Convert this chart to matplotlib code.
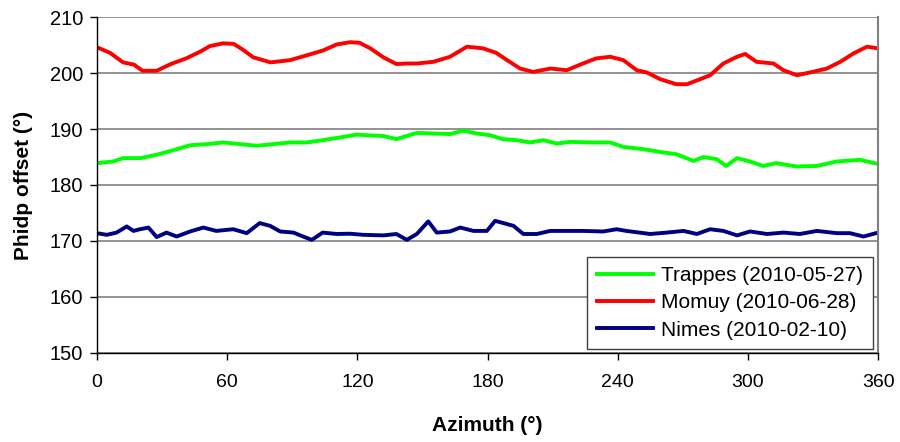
import matplotlib
matplotlib.use("Agg")
import matplotlib.pyplot as plt

plt.rcParams["font.family"] = ["Liberation Sans", "DejaVu Sans"]

# values
red_az = [0, 6, 12, 17, 21, 27.5, 34, 41, 47.5, 52, 58, 63, 67.5, 72, 80, 89, 97, 104, 110.5, 116.6,
          121, 126, 132, 138, 143, 147.5, 155, 162.7, 170.5, 178, 184, 189, 195, 201, 209, 216.5, 224, 230,
          236.5, 242.6, 248.8, 253.4, 259.6, 267, 272, 278, 282.6, 288.7, 295, 298.8, 304, 311.8, 316.4,
          322.6, 328.7, 336.4, 342.6, 348.7, 354.9, 360]
red_val = [204.6, 203.6, 201.9, 201.5, 200.4, 200.4, 201.6, 202.6, 203.8, 204.8, 205.3, 205.2, 204.1, 202.8,
           201.9, 202.3, 203.2, 204.0, 205.1, 205.5, 205.4, 204.4, 202.8, 201.6, 201.7, 201.7, 202.0, 202.9,
           204.7, 204.4, 203.6, 202.3, 200.8, 200.2, 200.8, 200.5, 201.7, 202.6, 202.9, 202.3, 200.5, 200.1,
           198.9, 198.0, 198.0, 198.9, 199.6, 201.7, 202.9, 203.4, 202.0, 201.7, 200.5, 199.6, 200.1, 200.8,
           202.0, 203.5, 204.7, 204.4]

green_az = [0, 7.5, 12, 20, 27.5, 35, 43, 50.6, 58, 66, 73.6, 81.3, 89, 96.7, 104, 112, 119.7, 124, 132, 138,
            147.4, 155, 162.7, 169, 175, 181, 187, 193.5, 199.6, 205.8, 212, 218, 227, 236.5, 242.6, 251.8,
            259.6, 267, 275, 279.5, 285.7, 290, 295, 301, 307, 313, 322.6, 331.8, 341, 351.7, 360]
green_val = [183.9, 184.2, 184.8, 184.8, 185.4, 186.2, 187.1, 187.3, 187.6, 187.3, 187.0, 187.3, 187.6, 187.6,
             188.0, 188.5, 189.0, 188.9, 188.75, 188.2, 189.3, 189.2, 189.1, 189.7, 189.2, 188.9, 188.2, 188.0,
             187.6, 188.0, 187.4, 187.7, 187.6, 187.6, 186.8, 186.4, 185.9, 185.5, 184.3, 185.0, 184.6, 183.4,
             184.8, 184.2, 183.4, 183.9, 183.3, 183.4, 184.2, 184.5, 183.75]

blue_az = [0, 4.5, 9, 13.7, 16.8, 19.8, 23.7, 27.5, 32, 36.7, 42.9, 49, 55, 62.8, 69, 75, 79.8, 84.4, 90.5, 95,
           99, 104, 110.5, 116.6, 122.8, 132, 138, 142.8, 147.4, 152.7, 156.6, 162.7, 167.4, 173.5, 179.7,
           183.5, 187.3, 192, 196.5, 202.7, 208.9, 216.5, 224, 233.3, 239.5, 244, 255, 262.6, 270.3, 276.5,
           282.6, 288.7, 295, 301, 308.8, 316.4, 324, 331.8, 341, 347, 353.3, 360]
blue_val = [171.4, 171.1, 171.5, 172.6, 171.8, 172.1, 172.4, 170.7, 171.5, 170.8, 171.7, 172.4, 171.8, 172.1,
            171.4, 173.2, 172.7, 171.7, 171.5, 170.8, 170.2, 171.5, 171.25, 171.3, 171.1, 171.0, 171.25, 170.2,
            171.25, 173.5, 171.5, 171.7, 172.4, 171.8, 171.8, 173.6, 173.2, 172.7, 171.25, 171.25, 171.8,
            171.8, 171.8, 171.7, 172.1, 171.8, 171.25, 171.5, 171.8, 171.25, 172.1, 171.8, 171.0, 171.7,
            171.25, 171.5, 171.25, 171.8, 171.4, 171.4, 170.8, 171.5]

labels = ["Trappes (2010-05-27)", "Momuy (2010-06-28)", "Nimes (2010-02-10)"]
x_ticks = [0, 60, 120, 180, 240, 300, 360]
y_ticks = [150, 160, 170, 180, 190, 200, 210]

fig = plt.figure(figsize=(9, 4.42), dpi=100)
ax = fig.add_axes([0.1078, 0.2014, 0.8678, 0.7601])

# horizontal grid in gray
ax.set_axisbelow(True)
ax.yaxis.grid(True, color="#808080", linewidth=1.2)

ax.plot(green_az, green_val, color="#00ff00", linewidth=2.8, label=labels[0])
ax.plot(red_az, red_val, color="#ff0000", linewidth=2.8, label=labels[1])
ax.plot(blue_az, blue_val, color="#000080", linewidth=2.8, label=labels[2])

ax.set_xlim(0, 360)
ax.set_ylim(150, 210)
ax.set_xticks(x_ticks)
ax.set_yticks(y_ticks)
ax.tick_params(direction="out", length=5, width=1)
ax.tick_params(axis="y", labelsize=14.5, pad=5)
ax.tick_params(axis="x", labelsize=14, pad=10)

for s in ["left", "bottom"]:
    ax.spines[s].set_color("black")
    ax.spines[s].set_linewidth(1)
ax.spines["top"].set_visible(False)
ax.spines["right"].set_color("#808080")
ax.spines["right"].set_linewidth(1.5)

ax.set_xlabel("Azimuth (°)", fontsize=15, fontweight="bold", labelpad=18)
ax.set_ylabel("Phidp offset (°)", fontsize=15, fontweight="bold", labelpad=12)

leg = ax.legend(loc="lower right", bbox_to_anchor=(0.993, 0.012), borderaxespad=0,
                fancybox=False, framealpha=1, edgecolor="#404040", fontsize=15,
                handlelength=2.7, labelspacing=0.4, handletextpad=0.4, borderpad=0.45)
leg.get_frame().set_linewidth(1)

plt.savefig("out.png", dpi=100)
